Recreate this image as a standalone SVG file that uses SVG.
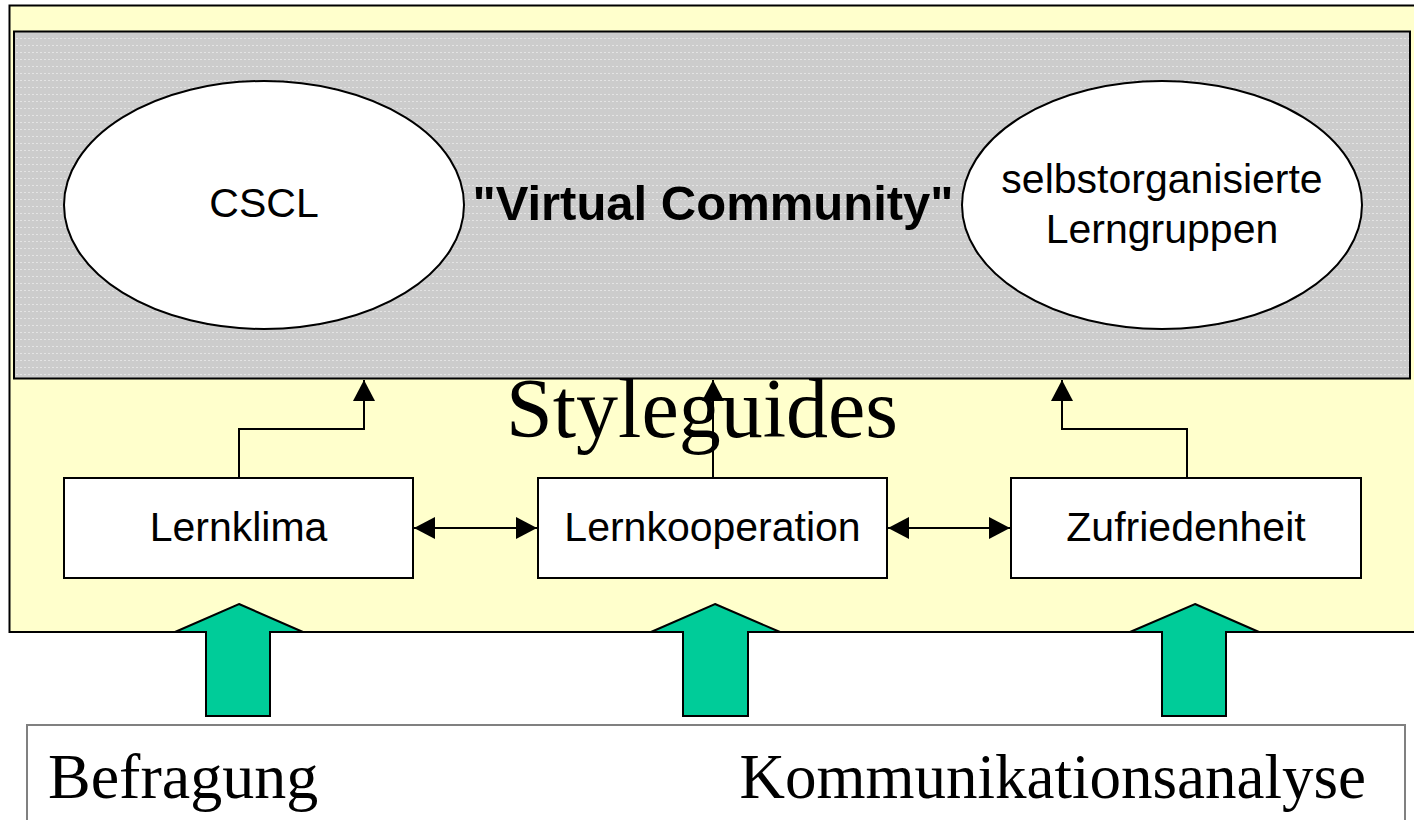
<svg xmlns="http://www.w3.org/2000/svg" width="1414" height="820" viewBox="0 0 1414 820">
<defs>
<pattern id="dots" x="0" y="0" width="4" height="7" patternUnits="userSpaceOnUse">
<rect width="4" height="7" fill="#cccccc"/>
<rect x="0" y="3" width="2" height="1" fill="#e4e4e4"/>
</pattern>
<marker id="ah" viewBox="0 0 21 22" refX="21" refY="11" markerWidth="21" markerHeight="22" markerUnits="userSpaceOnUse" orient="auto-start-reverse">
<path d="M0,0 L21,11 L0,22 z" fill="#000"/>
</marker>
</defs>
<style>
.box{fill:#ffffff;stroke:#000;stroke-width:2}
.ell{fill:#ffffff;stroke:#000;stroke-width:2}
.lbl{font-family:"Liberation Sans",Arial,sans-serif;font-size:41px;fill:#000;text-anchor:middle}
.serif{font-family:"Liberation Serif","Times New Roman",serif;fill:#000}
.con{fill:none;stroke:#000;stroke-width:2}
.big{fill:#00cc99;stroke:#000;stroke-width:2;stroke-linejoin:miter}
</style>
<rect width="1414" height="820" fill="#ffffff"/>
<g id="frame">
<rect x="9.5" y="5.5" width="1420" height="626.5" fill="#ffffcc" stroke="#000" stroke-width="2"/>
</g>
<g id="community">
<rect x="14" y="31.5" width="1396" height="347" fill="url(#dots)" stroke="#000" stroke-width="2"/>
<text x="713" y="220" font-family="'Liberation Sans',Arial,sans-serif" font-size="49" font-weight="bold" text-anchor="middle">"Virtual Community"</text>
</g>
<g id="cscl">
<ellipse class="ell" cx="264" cy="205" rx="200" ry="124"/>
<text class="lbl" x="264" y="217">CSCL</text>
</g>
<g id="lerngruppen">
<ellipse class="ell" cx="1162" cy="205" rx="200" ry="124"/>
<text class="lbl" x="1162" y="193">selbstorganisierte</text>
<text class="lbl" x="1162" y="243">Lerngruppen</text>
</g>
<g id="styleguides">
<text class="serif" x="506" y="437" font-size="84">Styleguides</text>
</g>
<g id="lernklima">
<rect class="box" x="64" y="478" width="349" height="100"/>
<text class="lbl" x="238.5" y="541">Lernklima</text>
</g>
<g id="lernkooperation">
<rect class="box" x="538" y="478" width="349" height="100"/>
<text class="lbl" x="712.5" y="541">Lernkooperation</text>
</g>
<g id="zufriedenheit">
<rect class="box" x="1011" y="478" width="350" height="100"/>
<text class="lbl" x="1186" y="541">Zufriedenheit</text>
</g>
<g id="connectors">
<path class="con" d="M239,478 V429 H364 V380" marker-end="url(#ah)"/>
<path class="con" d="M713,478 V380" marker-end="url(#ah)"/>
<path class="con" d="M1187,478 V429 H1062 V380" marker-end="url(#ah)"/>
<path class="con" d="M414,528 H537" marker-start="url(#ah)" marker-end="url(#ah)"/>
<path class="con" d="M888,528 H1010" marker-start="url(#ah)" marker-end="url(#ah)"/>
<polygon class="big" points="239,604 303,632 270,632 270,716 206,716 206,632 175,632"/>
<polygon class="big" points="715,604 780,632 748,632 748,716 683,716 683,632 651,632"/>
<polygon class="big" points="1195,604 1259,632 1226,632 1226,716 1162,716 1162,632 1130,632"/>
</g>
<g id="methods">
<rect x="27" y="725" width="1378" height="110" fill="#ffffff" stroke="#808080" stroke-width="2"/>
<text class="serif" x="48" y="798" font-size="64">Befragung</text>
<text class="serif" x="1366" y="798" font-size="63" text-anchor="end">Kommunikationsanalyse</text>
</g>
</svg>
